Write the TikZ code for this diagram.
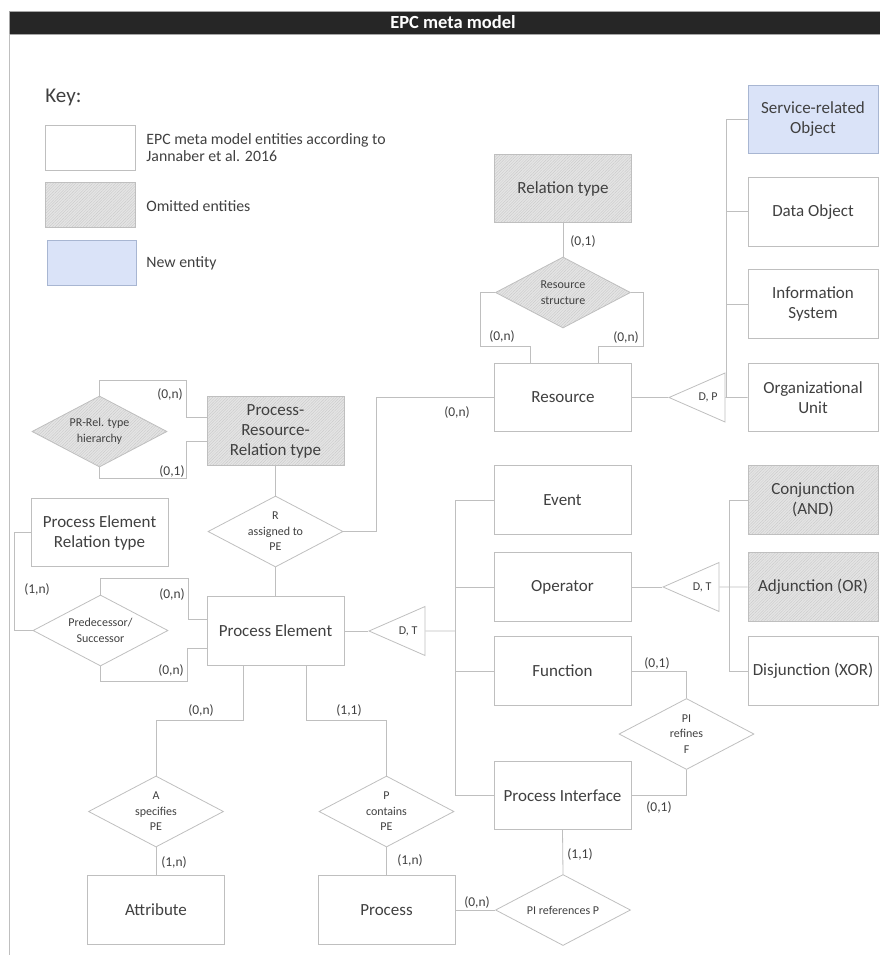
\documentclass[tikz,border=0pt]{standalone}
\usepackage{fontspec}
\setmainfont{Carlito}
\usetikzlibrary{shapes.geometric,patterns.meta,positioning}

\definecolor{linec}{HTML}{BFBFBF}
\definecolor{textc}{HTML}{404040}
\definecolor{omitfill}{HTML}{E4E4E4}
\definecolor{newblue}{HTML}{DAE3F8}
\definecolor{newedge}{HTML}{A8B6D2}
\definecolor{titlebg}{HTML}{262626}

\begin{document}
\begin{tikzpicture}[x=1pt,y=-1pt,color=linec,line width=0.8pt,
    entity/.style={rectangle,draw=linec,minimum width=137,minimum height=68.5,inner sep=0pt,
      align=center,text=textc,font=\fontsize{17}{20}\selectfont},
    hatch/.style={preaction={fill=omitfill},pattern={Lines[angle=45,distance=2pt,line width=0.3pt]},
      pattern color=gray!45},
    omitted/.style={entity,hatch},
    newent/.style={entity,fill=newblue,draw=newedge},
    rel/.style={diamond,draw=linec,aspect=1.9,minimum width=135,minimum height=71,inner sep=0pt,
      align=center,text=textc,font=\fontsize{12}{15.5}\selectfont},
    omitrel/.style={rel,hatch},
    spec/.style={isosceles triangle,shape border rotate=180,isosceles triangle stretches,
      minimum width=49,minimum height=56,inner sep=0pt,draw=linec,text=textc,
      font=\fontsize{12}{12}\selectfont},
    card/.style={inner sep=0pt,text=textc,font=\fontsize{13.5}{13.5}\selectfont},
    keytxt/.style={inner sep=0pt,anchor=west,align=left,text=textc,font=\fontsize{15.8}{17.5}\selectfont}]

  \useasboundingbox (0,0) rectangle (880,955);
  \clip (0,0) rectangle (880,955);

  % frame and title
  \node[fill=titlebg,draw=gray!70,minimum width=888,minimum height=23,inner sep=0pt,text=white,
    font=\fontsize{18.5}{18.5}\selectfont\bfseries] (title) at (453,22.5) {EPC meta model};
  \draw (9.5,34) -- (9.5,955);

  % key
  \node[keytxt,font=\fontsize{21}{21}\selectfont] (keyhead) at (45,97) {Key:};
  \node[entity,minimum width=90,minimum height=45] (keyold) at (90,147.5) {};
  \node[omitted,minimum width=90,minimum height=45] (keyomit) at (90,204.5) {};
  \node[newent,minimum width=89,minimum height=45] (keynew) at (91.5,262.5) {};
  \node[keytxt] (keyoldtxt) at (146,147.5) {EPC meta model entities according to\\Jannaber et al. 2016};
  \node[keytxt] (keyomittxt) at (146,206) {Omitted entities};
  \node[keytxt] (keynewtxt) at (146,263) {New entity};

  % resources
  \node[omitted] (reltype) at (563,188.5) {Relation type};
  \node[omitrel] (resstruct) at (563,292.5) {Resource\\structure};
  \node[entity] (resource) at (563,397.5) {Resource};
  \node[spec,anchor=apex] (dpres) at (668,397.5) {D, P};
  \node[newent,minimum width=130] (servobj) at (813,119.5) {Service-related\\Object};
  \node[entity,minimum width=130,below=23pt of servobj] (dataobj) {Data Object};
  \node[entity,minimum width=130,below=23pt of dataobj] (infosys) {Information\\System};
  \node[entity,minimum width=130] (orgunit) at (813,397.5) {Organizational\\Unit};

  % process element side
  \node[omitted] (prrt) at (275.5,431) {Process-\\Resource-\\Relation type};
  \node[omitrel] (prhier) at (99.5,431.5) {PR-Rel. type\\hierarchy};
  \node[rel] (rassign) at (275.5,531.5) {R\\assigned to\\PE};
  \node[entity] (pert) at (99.5,532.5) {Process Element\\Relation type};
  \node[entity] (pe) at (275.5,631) {Process Element};
  \node[rel] (predsucc) at (100.5,630.5) {Predecessor/\\Successor};
  \node[spec,anchor=apex] (dtpe) at (368,631) {D, T};

  \node[entity] (event) at (562.5,500) {Event};
  \node[entity] (operator) at (562.5,587) {Operator};
  \node[entity] (function) at (562.5,671) {Function};
  \node[entity] (pint) at (562.5,795.5) {Process Interface};
  \node[spec,anchor=apex] (dtop) at (662,587) {D, T};
  \node[omitted,minimum width=130] (conj) at (813,500) {Conjunction\\(AND)};
  \node[omitted,minimum width=130] (adj) at (813,587) {Adjunction (OR)};
  \node[entity,minimum width=130] (disj) at (813,671) {Disjunction (XOR)};

  \node[rel] (pirefines) at (686.5,734) {PI\\refines\\F};
  \node[rel] (piref) at (563,910) {PI references P};
  \node[rel] (aspec) at (156,811.5) {A\\specifies\\PE};
  \node[rel] (pcont) at (386.5,811.5) {P\\contains\\PE};
  \node[entity] (attribute) at (156,910) {Attribute};
  \node[entity] (process) at (386.5,910) {Process};

  % connectors
  \draw (reltype.south) -- (resstruct.north);
  \draw (resstruct.west) -| (480,346) -| ([xshift=-33pt]resource.north);
  \draw (resstruct.east) -| (643,346) -| ([xshift=35pt]resource.north);
  \draw (rassign.east) -| (376,397.5) -- (resource.west);
  \draw (resource.east) -- (dpres.apex);
  \coordinate (resbus) at (726,397.5);
  \draw (dpres.east) -- (orgunit.west);
  \draw (servobj.west -| resbus) -- (resbus);
  \foreach \n in {servobj,dataobj,infosys}
    \draw (\n.west) -- (\n.west -| resbus);

  \draw (prrt.south) -- (rassign.north);
  \draw (rassign.south) -- (pe.north);
  \draw (prhier.north) |- (186,380) |- ([yshift=14pt]prrt.west);
  \draw (prhier.south) |- (186,478) |- ([yshift=-10pt]prrt.west);
  \draw (pert.west) -| (14,630.5) -- (predsucc.west);
  \draw (predsucc.north) |- (188,578) |- ([yshift=12pt]pe.west);
  \draw (predsucc.south) |- (187,681) |- ([yshift=-17pt]pe.west);

  \draw (pe.east) -- (dtpe.apex);
  \coordinate (pebus) at (455,631);
  \draw (dtpe.east) -- (pebus);
  \draw (event.west -| pebus) -- (pint.west -| pebus);
  \foreach \n in {event,operator,function,pint}
    \draw (\n.west) -- (\n.west -| pebus);
  \draw (operator.east) -- (dtop.apex);
  \coordinate (opbus) at (729,587);
  \draw (dtop.east) -- (adj.west);
  \draw (conj.west -| opbus) -- (disj.west -| opbus);
  \foreach \n in {conj,disj}
    \draw (\n.west) -- (\n.west -| opbus);

  \draw (function.east) -| (pirefines.north);
  \draw (pint.east) -| (pirefines.south);
  \draw (pint.south) -- (piref.north);
  \draw (process.east) -- (piref.west);
  \draw ([xshift=-32.5pt]pe.south) |- (156,720) -- (aspec.north);
  \draw ([xshift=30.5pt]pe.south) |- (386.5,720) -- (pcont.north);
  \draw (aspec.south) -- (attribute.north);
  \draw (pcont.south) -- (process.north);

  % cardinalities
  \node[card] (c01) at (583,241) {(0,1)};
  \node[card] (c02) at (502,336) {(0,n)};
  \node[card] (c03) at (626,337) {(0,n)};
  \node[card] (c04) at (457,412) {(0,n)};
  \node[card] (c05) at (170,394) {(0,n)};
  \node[card] (c06) at (172,471) {(0,1)};
  \node[card] (c07) at (37,589) {(1,n)};
  \node[card] (c08) at (172,594) {(0,n)};
  \node[card] (c09) at (171,670) {(0,n)};
  \node[card] (c10) at (201,710) {(0,n)};
  \node[card] (c11) at (349,710) {(1,1)};
  \node[card] (c12) at (174,862) {(1,n)};
  \node[card] (c13) at (410,860) {(1,n)};
  \node[card] (c14) at (477,902) {(0,n)};
  \node[card] (c15) at (580,854) {(1,1)};
  \node[card] (c16) at (657,663) {(0,1)};
  \node[card] (c17) at (659,807) {(0,1)};
\end{tikzpicture}
\end{document}
